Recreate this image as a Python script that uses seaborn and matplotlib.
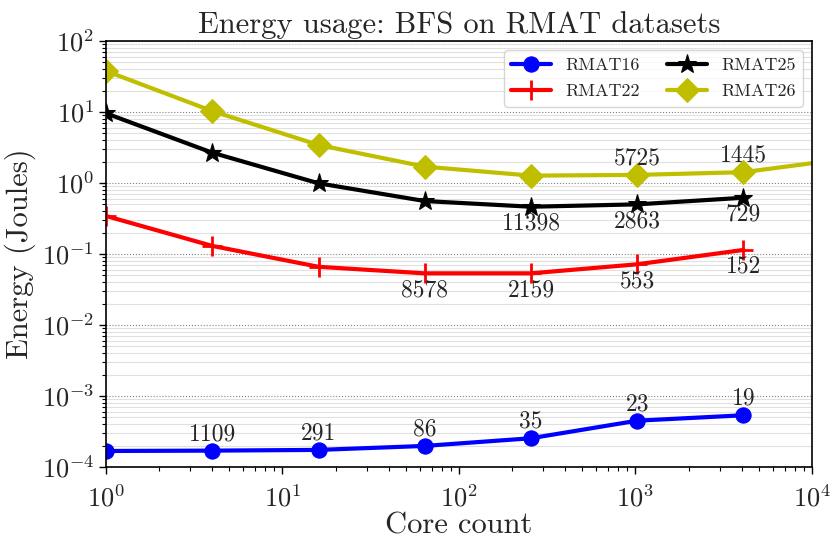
import matplotlib
matplotlib.use("Agg")
import matplotlib.pyplot as plt
import seaborn as sns
import numpy as np
import pandas as pd

cores = [1, 4, 16, 64, 256, 1024, 4096]
cores26 = [1, 4, 16, 64, 256, 1024, 4096, 16384]

rmat16 = [1.68e-4, 1.70e-4, 1.74e-4, 1.98e-4, 2.54e-4, 4.49e-4, 5.35e-4]
rmat22 = [0.343, 0.13, 0.066, 0.0534, 0.0534, 0.0716, 0.114]
rmat25 = [9.58, 2.67, 0.99, 0.557, 0.463, 0.50, 0.62]
rmat26 = [37.8, 10.3, 3.43, 1.70, 1.27, 1.30, 1.42, 2.23]

labels16 = ["", "1109", "291", "86", "35", "23", "19"]
labels22 = ["", "", "", "8578", "2159", "553", "152"]
labels25 = ["", "", "", "", "11398", "2863", "729"]
labels26 = ["", "", "", "", "", "5725", "1445", ""]

sns.set_style("white")
plt.rcParams["font.family"] = "serif"
plt.rcParams["font.serif"] = ["cmr10"]
plt.rcParams["mathtext.fontset"] = "cm"
plt.rcParams["axes.formatter.use_mathtext"] = True
plt.rcParams["axes.unicode_minus"] = True

fig = plt.figure(figsize=(8.31, 5.38), dpi=100)
ax = fig.add_axes([0.1276, 0.132, 0.8494, 0.7918])

series = [
    ("RMAT16", cores, rmat16, "b", "o", 11, labels16, 1),
    ("RMAT22", cores, rmat22, "r", "+", 14, labels22, -1),
    ("RMAT25", cores, rmat25, "k", "*", 14, labels25, -1),
    ("RMAT26", cores26, rmat26, "y", "D", 12.5, labels26, 1),
]

for name, xs, ys, col, mk, ms, labs, side in series:
    df = pd.DataFrame({"cores": xs, "energy": ys})
    kw = dict(markersize=ms)
    if mk == "+":
        kw["markeredgewidth"] = 2
    sns.lineplot(data=df, x="cores", y="energy", ax=ax, color=col, marker=mk,
                 linewidth=3, label=name, markeredgecolor=col, **kw)
    for xv, yv, lab in zip(xs, ys, labs):
        if lab:
            ax.annotate(lab, (xv, yv), xytext=(0, 12 * side), textcoords="offset points",
                        ha="center", va="center", fontsize=17)

ax.set_xscale("log")
ax.set_yscale("log")
ax.set_xlim(1, 1e4)
ax.set_ylim(1e-4, 1e2)

ax.yaxis.grid(True, which="major", color="gray", linestyle=":", linewidth=0.8)
ax.yaxis.grid(True, which="minor", color="#e0e0e0", linestyle="-", linewidth=0.8)
ax.xaxis.grid(False)
ax.set_axisbelow(True)

for sp in ax.spines.values():
    sp.set_color("black")
    sp.set_linewidth(1.2)

ax.tick_params(axis="both", which="major", direction="out", length=5, width=1,
               labelsize=19, bottom=True, left=True, color="black")
ax.tick_params(axis="x", which="major", pad=8)
ax.tick_params(axis="both", which="minor", direction="out", length=3, width=0.8,
               bottom=True, left=True, color="black")

ax.set_xlabel("Core count", fontsize=22, labelpad=0)
ax.set_ylabel("Energy (Joules)", fontsize=22)
ax.set_title("Energy usage: BFS on RMAT datasets", fontsize=22)

leg = ax.legend(loc="upper right", ncol=2, fontsize=13, frameon=True, fancybox=True,
                framealpha=0.8, columnspacing=1.5, handlelength=2.2, labelspacing=0.6)

fig.savefig("out.png", dpi=100)
